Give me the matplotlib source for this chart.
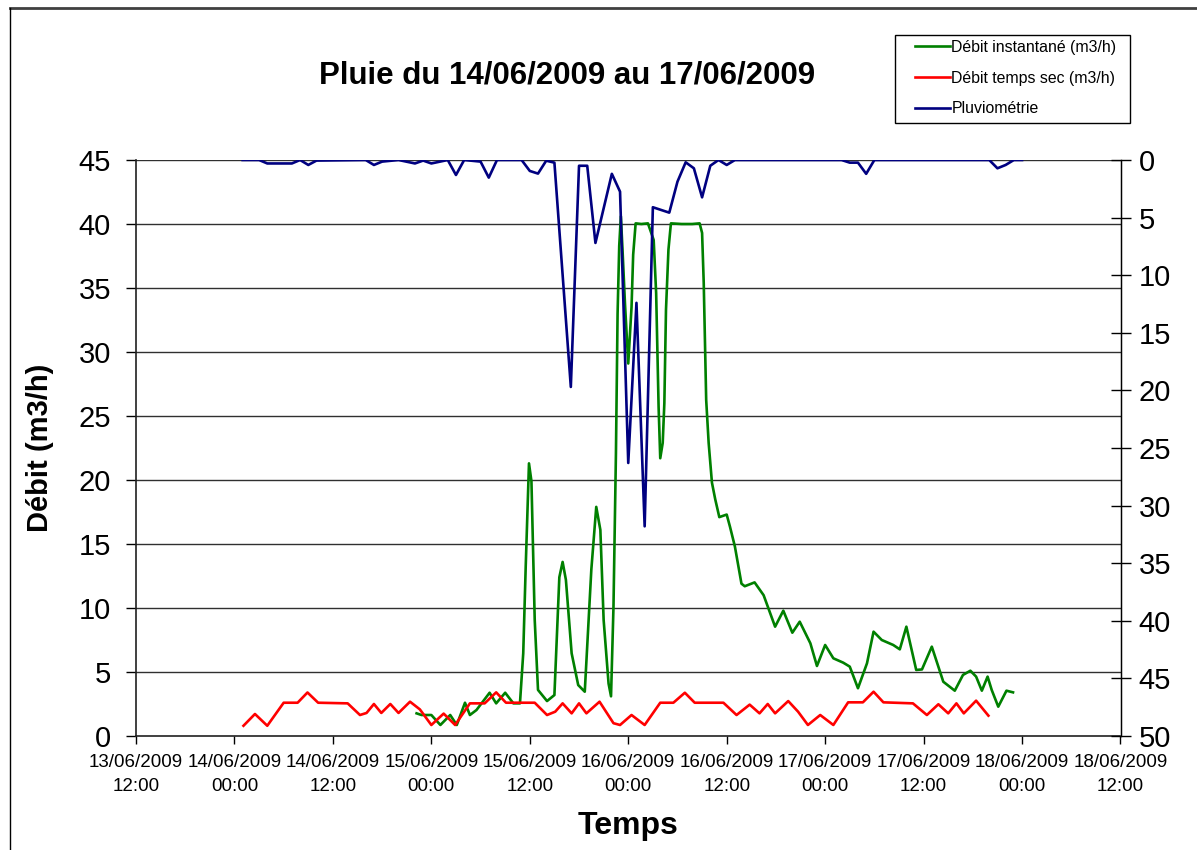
import matplotlib
matplotlib.use("Agg")
import matplotlib.pyplot as plt
import matplotlib.dates as mdates
from matplotlib.lines import Line2D
from matplotlib.patches import Rectangle
import numpy as np
import pandas as pd

plt.rcParams['font.family'] = ['Liberation Sans', 'DejaVu Sans']

# ---- data (hours since 13/06/2009 12:00) ----
base_time = pd.Timestamp("2009-06-13 12:00")

green_h = [34.2, 34.8, 36.0, 37.1, 38.3, 39.1, 40.1, 40.7, 41.5, 43.1, 43.9, 45.0, 46.0, 46.8,
           47.2, 47.5, 47.9, 48.2, 48.6, 49.0, 50.1, 51.0, 51.6, 52.0, 52.4, 53.1, 53.9, 54.7,
           55.5, 56.1, 56.6, 57.0, 57.6, 57.9, 58.2, 58.5, 58.7, 58.9, 59.1, 59.3, 59.6, 60.0,
           60.4, 60.6, 60.9, 61.6, 62.4, 63.1, 63.4, 63.7, 63.9, 64.2, 64.4, 64.6, 64.9, 65.2,
           66.5, 67.8, 68.7, 69.0, 69.2, 69.5, 69.8, 70.2, 70.6, 71.1, 72.0, 72.4, 73.0, 73.8,
           74.2, 75.4, 76.5, 77.9, 78.9, 80.0, 80.9, 82.2, 83.0, 84.0, 85.0, 86.2, 87.0, 88.0,
           89.1, 89.9, 90.9, 92.3, 93.1, 93.9, 95.1, 95.8, 97.0, 98.4, 99.8, 100.8, 101.7,
           102.4, 103.1, 103.8, 104.3, 105.1, 106.1, 106.9]
green_v = [1.77, 1.64, 1.64, 0.86, 1.64, 0.86, 2.6, 1.64, 2.03, 3.38, 2.55, 3.38, 2.55, 2.55,
           6.46, 13.2, 21.3, 19.9, 9.06, 3.6, 2.73, 3.2, 12.4, 13.6, 12.2, 6.46, 3.98, 3.46,
           13.0, 17.9, 16.1, 9.06, 4.1, 3.1, 10.1, 22.1, 33.0, 38.3, 40.6, 38.0, 33.8, 29.1,
           33.5, 37.6, 40.05, 40.0, 40.05, 38.75, 34.6, 25.7, 21.7, 22.9, 26.0, 33.3, 38.0, 40.05,
           40.0, 40.0, 40.05, 39.3, 35.4, 26.25, 22.9, 19.8, 18.5, 17.1, 17.3, 16.35, 14.8, 11.9,
           11.7, 12.0, 11.0, 8.54, 9.79, 8.07, 8.93, 7.24, 5.47, 7.11, 6.07, 5.73, 5.42, 3.73,
           5.68, 8.15, 7.5, 7.11, 6.77, 8.54, 5.16, 5.2, 6.98, 4.24, 3.54, 4.77, 5.1,
           4.64, 3.54, 4.64, 3.6, 2.29, 3.54, 3.41]

red_h = [13.1, 14.5, 16.0, 18.0, 19.7, 20.9, 22.2, 25.8, 27.3, 28.1, 29.0, 29.9, 31.0, 32.0,
         33.4, 34.6, 36.0, 37.5, 38.9, 40.7, 42.5, 43.9, 45.1, 48.6, 50.1, 51.1, 52.0, 53.1,
         54.0, 54.9, 56.5, 58.2, 59.0, 60.4, 62.0, 63.9, 65.5, 66.9, 68.1, 71.6, 73.2, 74.8,
         76.0, 77.0, 77.9, 79.5, 80.7, 81.9, 83.4, 85.0, 86.8, 88.6, 89.9, 91.1, 94.7, 96.4,
         97.8, 99.0, 100.0, 100.9, 102.4, 103.9]
red_v = [0.8, 1.72, 0.8, 2.6, 2.6, 3.4, 2.6, 2.55, 1.64, 1.8, 2.5, 1.8, 2.5, 1.8,
         2.68, 2.08, 0.86, 1.75, 0.86, 2.55, 2.55, 3.41, 2.6, 2.6, 1.64, 1.9, 2.55, 1.77,
         2.55, 1.77, 2.68, 1.0, 0.86, 1.64, 0.86, 2.6, 2.6, 3.38, 2.6, 2.6, 1.64, 2.45,
         1.77, 2.5, 1.77, 2.73, 1.9, 0.86, 1.64, 0.86, 2.63, 2.63, 3.46, 2.63, 2.55, 1.64,
         2.48, 1.77, 2.55, 1.77, 2.76, 1.59]

rain_h = [13, 15, 16, 19, 20, 21, 22, 28, 29, 30, 32, 34, 35, 36, 38, 39, 40, 42, 43, 44,
          47, 48, 49, 50, 51, 53, 54, 55, 56, 58, 59, 60, 61, 62, 63, 65, 66, 67, 68, 69,
          70, 71, 72, 73, 86, 87, 88, 89, 90, 104, 105, 106, 107, 108]
rain_v = [0, 0, 0.3, 0.3, 0, 0.43, 0.05, 0, 0.43, 0.14, 0, 0.3, 0.05, 0.3, 0, 1.3, 0, 0.14, 1.53, 0,
          0, 0.95, 1.18, 0.06, 0.23, 19.7, 0.5, 0.5, 7.2, 1.2, 2.75, 26.3, 12.4, 31.8, 4.1, 4.57, 1.88, 0.2, 0.72, 3.24,
          0.5, 0, 0.43, 0, 0, 0.23, 0.23, 1.2, 0, 0, 0.72, 0.43, 0, 0]

left_ticks = list(range(0, 50, 5))
right_ticks = list(range(0, 55, 5))
x_ticks = pd.date_range("2009-06-13 12:00", "2009-06-18 12:00", freq="12h")

labels = ["Débit instantané (m3/h)", "Débit temps sec (m3/h)", "Pluviométrie"]
title = "Pluie du 14/06/2009 au 17/06/2009"

def to_time(hours):
    return base_time + pd.to_timedelta(np.array(hours), unit="h")

# ---- figure ----
W, H = 1197, 850
fig = plt.figure(figsize=(W / 100, H / 100), dpi=100)
fig.patch.set_facecolor("white")

# outer chart-area border
fig.add_artist(Line2D([10 / W, 1.0], [1 - 8 / H, 1 - 8 / H], transform=fig.transFigure,
                      color="#404040", lw=2))
fig.add_artist(Line2D([10 / W, 10 / W], [0, 1 - 8 / H], transform=fig.transFigure,
                      color="black", lw=1))

ax = fig.add_axes([136 / W, 1 - 736 / H, (1120.5 - 136) / W, (736 - 160) / H])
ax.set_facecolor("white")

green = "#008000"
red = "#FF0000"
navy = "#000080"
lw = 1.9

for y in left_ticks[1:]:
    ax.axhline(y, color="#303030", lw=1.0, zorder=1)

l1, = ax.plot(to_time(green_h), green_v, color=green, lw=lw, zorder=3)
l2, = ax.plot(to_time(red_h), red_v, color=red, lw=lw, zorder=4)

ax.set_xlim(x_ticks[0], x_ticks[-1])
ax.set_ylim(0, 45)
ax.set_yticks(left_ticks)
ax.set_xticks(x_ticks)
ax.xaxis.set_major_formatter(mdates.DateFormatter("%d/%m/%Y\n%H:%M"))
ax.tick_params(axis="y", labelsize=21, length=7, width=1, direction="out", pad=11, colors="black")
ax.tick_params(axis="x", labelsize=13.5, length=6, width=1, direction="out", pad=7, colors="black")
for lab in ax.get_xticklabels():
    lab.set_linespacing(1.5)

ax.spines["top"].set_visible(False)
for s in ["left", "bottom"]:
    ax.spines[s].set_color("#202020")
    ax.spines[s].set_linewidth(1.2)

ax2 = ax.twinx()
l3, = ax2.plot(to_time(rain_h), rain_v, color=navy, lw=lw, zorder=5)
ax2.set_ylim(50, 0)
ax2.set_yticks(right_ticks)
ax2.tick_params(axis="y", labelsize=21, length=14, width=1, direction="inout", pad=6, colors="black")
ax2.spines["top"].set_visible(False)
ax2.spines["right"].set_color("black")
ax2.spines["right"].set_linewidth(1.0)
ax2.spines["left"].set_visible(False)
ax2.spines["bottom"].set_visible(False)

ax.set_ylabel("Débit (m3/h)", fontsize=21, fontweight="bold")
ax.yaxis.set_label_coords(-0.083, 0.5)
ax.set_xlabel("Temps", fontsize=23, fontweight="bold")
ax.xaxis.set_label_coords(0.5, -0.13)

fig.text(567 / W, 1 - 75 / H, title, fontsize=22.5, fontweight="bold", ha="center", va="center")

# legend frame (Excel-style box) + entries
fig.add_artist(Rectangle((895 / W, 1 - 123 / H), (1130 - 895) / W, (123 - 35) / H,
                         transform=fig.transFigure, facecolor="white", edgecolor="black",
                         lw=1.0, zorder=10))
leg = fig.legend([l1, l2, l3], labels, loc="upper left",
                 bbox_to_anchor=(910 / W, 1 - 35 / H), fontsize=11.4,
                 frameon=False, handlelength=2.2, labelspacing=1.0, borderpad=0.3,
                 handletextpad=0.12, borderaxespad=0)
leg.set_zorder(11)

fig.savefig("out.png", dpi=100)
